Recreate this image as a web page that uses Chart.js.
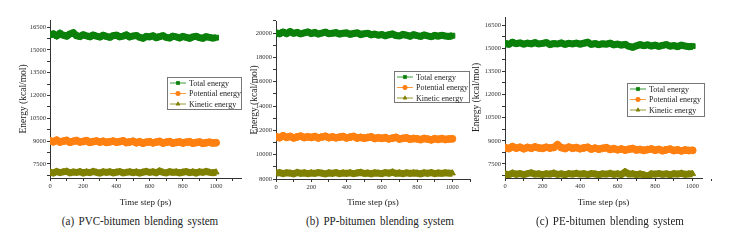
<!DOCTYPE html>
<html>
<head>
<meta charset="utf-8">
<script src="https://cdn.jsdelivr.net/npm/chart.js@4.4.1/dist/chart.umd.min.js"></script>
<style>
  body { margin: 0; background: #fff; width: 750px; height: 247px; overflow: hidden; position: relative; font-family: 'Liberation Serif', 'DejaVu Serif', serif; }
  canvas { position: absolute; top: 0; }
  .cap { position: absolute; top: 213px; font-size: 13px; line-height: 16px; white-space: nowrap; transform: translateX(-50%) scaleX(0.85); color: #222; word-spacing: 2px; }
</style>
</head>
<body>
<canvas id="pvc" width="250" height="212" style="left:0"></canvas>
<canvas id="pp" width="225" height="212" style="left:250px"></canvas>
<canvas id="pe" width="285" height="212" style="left:465px"></canvas>
<div class="cap" style="left:140px">(a) PVC-bitumen blending system</div>
<div class="cap" style="left:380px">(b) PP-bitumen blending system</div>
<div class="cap" style="left:610px">(c) PE-bitumen blending system</div>
<script>
// time steps (ps)
const timeSteps = [0, 20, 40, 60, 80, 100, 120, 140, 160, 180, 200, 220, 240, 260, 280, 300, 320, 340, 360, 380,
  400, 420, 440, 460, 480, 500, 520, 540, 560, 580, 600, 620, 640, 660, 680, 700, 720, 740, 760, 780,
  800, 820, 840, 860, 880, 900, 920, 940, 960, 980, 1000];

const seriesNames = ['Total energy', 'Potential energy', 'Kinetic energy'];

// (a) PVC
const pvcTotal = [15980, 16050, 15920, 16080, 15960, 15900, 16040, 16120, 15930, 15880,
  15990, 15920, 15860, 15970, 15900, 15840, 15950, 15880, 15820, 15930,
  15960, 15860, 15900, 15980, 15850, 15910, 15940, 15820, 15760, 15880,
  15850, 15920, 15800, 15870, 15930, 15820, 15780, 15900, 15850, 15780,
  15880, 15820, 15760, 15850, 15890, 15800, 15760, 15860, 15820, 15770, 15800];
const pvcPotential = [9020, 8960, 9060, 8940, 9000, 9050, 8930, 8990, 9040, 8950,
  8980, 9030, 8920, 8970, 9010, 8940, 8990, 8920, 8960, 9000,
  8930, 8970, 9020, 8910, 8950, 8990, 8900, 8960, 8870, 8930,
  8960, 8890, 8940, 8980, 8880, 8930, 8970, 8870, 8920, 8950,
  8880, 8930, 8960, 8870, 8910, 8940, 8860, 8900, 8930, 8880, 8900];
const pvcKinetic = [6960, 6900, 7010, 6930, 6980, 7020, 6920, 6970, 6940, 7000,
  6910, 6970, 6930, 7010, 6950, 6900, 6980, 6940, 6990, 6920,
  6960, 7000, 6910, 6950, 6990, 6930, 6970, 6900, 6960, 7010,
  6940, 6980, 6920, 7030, 6950, 6910, 6990, 6940, 6970, 6920,
  6960, 7000, 6930, 6970, 6910, 6980, 6940, 7010, 6950, 6920, 6960];

// (b) PP
const ppTotal = [20020, 19940, 20080, 19960, 20120, 19980, 20050, 19930, 20010, 20090,
  19960, 20040, 19920, 20000, 20070, 19950, 19990, 20030, 19920, 19980,
  20010, 19900, 19960, 20020, 19880, 19940, 19980, 19860, 19920, 19820,
  19880, 19780, 19860, 19920, 19800, 19760, 19880, 19820, 19740, 19860,
  19780, 19720, 19840, 19760, 19700, 19800, 19740, 19820, 19760, 19720, 19780];
const ppPotential = [11480, 11400, 11550, 11430, 11500, 11380, 11460, 11520, 11410, 11470,
  11420, 11490, 11380, 11450, 11510, 11400, 11460, 11390, 11440, 11490,
  11380, 11440, 11500, 11370, 11420, 11350, 11410, 11460, 11330, 11390,
  11340, 11400, 11300, 11360, 11420, 11290, 11340, 11380, 11270, 11330,
  11300, 11240, 11330, 11280, 11220, 11310, 11260, 11320, 11250, 11290, 11300];
const ppKinetic = [8470, 8530, 8440, 8510, 8480, 8420, 8540, 8460, 8500, 8430,
  8490, 8450, 8520, 8470, 8410, 8500, 8460, 8530, 8440, 8490,
  8460, 8510, 8430, 8490, 8540, 8450, 8480, 8420, 8500, 8470,
  8440, 8520, 8470, 8560, 8450, 8490, 8430, 8510, 8460, 8500,
  8470, 8420, 8510, 8460, 8530, 8440, 8490, 8450, 8510, 8470, 8480];

// (c) PE
const peTotal = [15320, 15250, 15380, 15290, 15340, 15260, 15330, 15280, 15360, 15270,
  15310, 15360, 15240, 15300, 15270, 15340, 15250, 15310, 15280, 15330,
  15260, 15320, 15380, 15250, 15300, 15230, 15290, 15260, 15320, 15220,
  15270, 15200, 15250, 15120, 15060, 15150, 15230, 15160, 15220, 15140,
  15200, 15120, 15180, 15230, 15130, 15170, 15100, 15190, 15140, 15100, 15130];
const pePotential = [8560, 8500, 8620, 8530, 8580, 8490, 8570, 8520, 8600, 8540,
  8510, 8580, 8530, 8570, 8740, 8560, 8500, 8590, 8520, 8560,
  8490, 8540, 8580, 8470, 8520, 8460, 8510, 8550, 8440, 8490,
  8420, 8470, 8400, 8450, 8500, 8410, 8440, 8380, 8430, 8470,
  8390, 8440, 8360, 8420, 8460, 8370, 8410, 8350, 8400, 8370, 8380];
const peKinetic = [6860, 6800, 6900, 6830, 6880, 6810, 6870, 6920, 6830, 6860,
  6810, 6870, 6840, 6900, 6820, 6860, 6800, 6880, 6840, 6890,
  6830, 6870, 6810, 6880, 6850, 6800, 6860, 6830, 6890, 6820,
  6860, 6810, 6980, 6840, 6870, 6810, 6850, 6800, 6680, 6860,
  6830, 6880, 6820, 6860, 6800, 6870, 6840, 6890, 6820, 6850, 6860];

// axis ticks (minor ticks carry no label)
const timeTicks = [0, 100, 200, 300, 400, 500, 600, 700, 800, 900, 1000, 1100];
const timeLabels = [0, 200, 400, 600, 800, 1000];
const energyTicksA = [6750, 7500, 8250, 9000, 9750, 10500, 11250, 12000, 12750, 13500, 14250, 15000, 15750, 16500];
const energyLabelsA = [7500, 9000, 10500, 12000, 13500, 15000, 16500];
const energyTicksB = [8000, 9000, 10000, 11000, 12000, 13000, 14000, 15000, 16000, 17000, 18000, 19000, 20000, 21000];
const energyLabelsB = [8000, 10000, 12000, 14000, 16000, 18000, 20000];

const colors = ['#0b800b', '#ff8010', '#808000'];
const markers = ['rect', 'circle', 'triangle'];
const serif = "'Liberation Serif', 'DejaVu Serif', serif";

const boxLegend = {
  id: 'boxLegend',
  afterDraw(chart, args, opts) {
    const ctx = chart.ctx;
    ctx.save();
    ctx.strokeStyle = '#777';
    ctx.lineWidth = 1;
    ctx.strokeRect(opts.x + 0.5, opts.y + 0.5, opts.w, opts.h);
    ctx.font = '8px ' + serif;
    ctx.textBaseline = 'middle';
    chart.data.datasets.forEach((ds, i) => {
      const y = opts.y + 6 + i * 10.5;
      const x0 = opts.x + 3;
      ctx.strokeStyle = ds.borderColor;
      ctx.fillStyle = ds.borderColor;
      ctx.lineWidth = 0.8;
      ctx.beginPath();
      ctx.moveTo(x0, y);
      ctx.lineTo(x0 + 16, y);
      ctx.stroke();
      Chart.helpers.drawPoint(ctx, {pointStyle: ds.pointStyle, rotation: 0, radius: 2.2, borderWidth: 0.5}, x0 + 8, y);
      ctx.fillStyle = '#222';
      ctx.fillText(ds.label, x0 + 19, y + 0.5);
    });
    ctx.restore();
  }
};

function makeChart(id, values, yMin, yMax, yTicks, yLabels, xMax, area, legend, titlePad) {
  const canvas = document.getElementById(id);
  const w = canvas.width, h = canvas.height;
  new Chart(canvas, {
    type: 'line',
    data: {
      labels: timeSteps,
      datasets: values.map((v, i) => ({
        label: seriesNames[i],
        data: v.map((y, k) => ({x: timeSteps[k], y: y})),
        borderColor: colors[i],
        backgroundColor: colors[i],
        borderWidth: 7,
        pointStyle: markers[i],
        pointRadius: 3.5,
        pointBorderWidth: 1,
        fill: false,
        tension: 0
      }))
    },
    options: {
      responsive: false,
      animation: false,
      layout: {padding: {top: area.top, right: w - area.right, left: 0, bottom: 0}},
      plugins: {legend: {display: false}, tooltip: {enabled: false}, boxLegend: legend},
      scales: {
        x: {
          type: 'linear', min: 0, max: xMax,
          afterBuildTicks: s => { s.ticks = timeTicks.map(v => ({value: v})); },
          afterFit: s => { s.height = h - area.bottom; },
          grid: {drawOnChartArea: false, tickLength: 3, color: '#333'},
          border: {color: '#333', width: 1},
          ticks: {
            padding: 1, maxRotation: 0, autoSkip: false, color: '#333',
            font: {family: serif, size: 6.5},
            callback: v => timeLabels.includes(v) ? String(v) : ''
          },
          title: {display: true, text: 'Time step (ps)', color: '#222', padding: {top: 0, bottom: 4},
            font: {family: serif, size: 9}}
        },
        y: {
          min: yMin, max: yMax,
          afterBuildTicks: s => { s.ticks = yTicks.map(v => ({value: v})); },
          afterFit: s => { s.width = area.left; },
          grid: {drawOnChartArea: false, tickLength: 3, color: '#333'},
          border: {color: '#333', width: 1},
          ticks: {
            padding: 1, autoSkip: false, color: '#333',
            font: {family: serif, size: 6.5},
            callback: v => yLabels.includes(v) ? String(v) : ''
          },
          title: {display: true, text: 'Energy (kcal/mol)', color: '#222', padding: {top: titlePad, bottom: 0},
            font: {family: serif, size: 9.5}}
        }
      }
    },
    plugins: [boxLegend]
  });
}

makeChart('pvc', [pvcTotal, pvcPotential, pvcKinetic], 6580, 16960, energyTicksA, energyLabelsA, 1150,
  {left: 50, top: 20, right: 241, bottom: 178}, {x: 167, y: 77, w: 74, h: 32}, 18);
makeChart('pp', [ppTotal, ppPotential, ppKinetic], 8000, 20990, energyTicksB, energyLabelsB, 1100,
  {left: 26, top: 21, right: 220, bottom: 179}, {x: 144, y: 71, w: 75, h: 31}, -1);
makeChart('pe', [peTotal, pePotential, peKinetic], 6590, 17020, energyTicksA, energyLabelsA, 1050,
  {left: 40, top: 17, right: 237, bottom: 178}, {x: 162, y: 83, w: 77, h: 33}, 6);
</script>
</body>
</html>
